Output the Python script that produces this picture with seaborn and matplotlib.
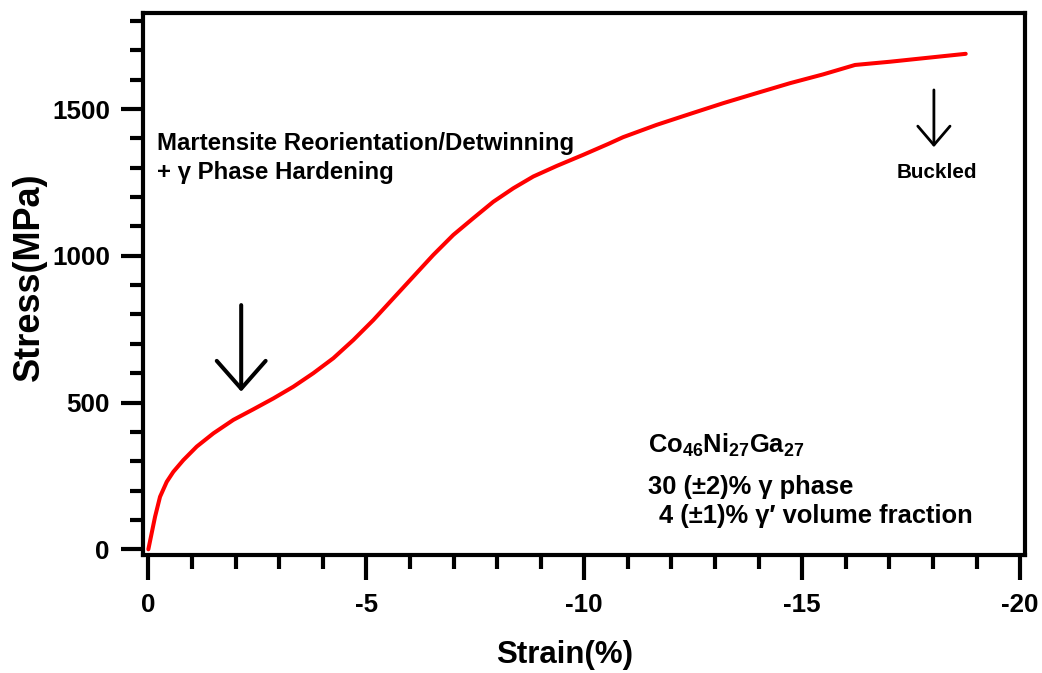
import matplotlib
matplotlib.use("Agg")
import matplotlib.pyplot as plt
import seaborn as sns
import pandas as pd

# strain-stress curve
strain = [0, -0.154, -0.268, -0.422, -0.573, -0.803, -1.110, -1.491, -1.950, -2.408,
          -2.867, -3.326, -3.784, -4.243, -4.702, -5.161, -5.619, -6.078, -6.537, -6.995,
          -7.454, -7.913, -8.372, -8.830, -9.367, -9.977, -10.55, -10.89, -11.66, -12.42,
          -13.19, -13.95, -14.72, -15.48, -16.21, -17.01, -17.78, -18.75]
stress = [0, 111, 179, 230, 264, 304, 350, 395, 441, 477,
          514, 554, 600, 651, 713, 781, 855, 929, 1003, 1071,
          1128, 1184, 1230, 1270, 1306, 1344, 1381, 1404, 1446, 1483,
          1520, 1554, 1588, 1618, 1650, 1661, 1673, 1688]

x_ticks = [0, -5, -10, -15, -20]
y_ticks = [0, 500, 1000, 1500]

df = pd.DataFrame({"Strain": strain, "Stress": stress})

sns.set_style("ticks")
plt.rcParams["font.family"] = ["Liberation Sans", "DejaVu Sans"]
plt.rcParams["font.weight"] = "bold"
plt.rcParams["axes.unicode_minus"] = False
plt.rcParams["text.color"] = "black"
plt.rcParams["axes.labelcolor"] = "black"
plt.rcParams["xtick.color"] = "black"
plt.rcParams["ytick.color"] = "black"
plt.rcParams["mathtext.fontset"] = "custom"
plt.rcParams["mathtext.rm"] = "Liberation Sans:bold"
plt.rcParams["mathtext.it"] = "Liberation Sans:bold"
plt.rcParams["mathtext.bf"] = "Liberation Sans:bold"

fig = plt.figure(figsize=(10.42, 6.73), dpi=100)
ax = fig.add_axes([0.1368, 0.1753, 0.8469, 0.8058])

sns.lineplot(data=df, x="Strain", y="Stress", color="red", lw=2.9, ax=ax, sort=False)

ax.set_xlim(0.133, -20.11)
ax.set_ylim(-19.4, 1828)
ax.set_xticks(x_ticks)
ax.set_xticks(range(0, -21, -1), minor=True)
ax.set_yticks(y_ticks)
ax.set_yticks(range(0, 1801, 100), minor=True)

for s in ax.spines.values():
    s.set_linewidth(3)
    s.set_color("black")

ax.tick_params(axis="y", which="major", direction="out", length=16, width=3, pad=7.5, labelsize=18.7)
ax.tick_params(axis="y", which="minor", direction="out", length=9.5, width=3)
ax.tick_params(axis="x", which="major", direction="out", length=18, width=3, pad=9, labelsize=18.7)
ax.tick_params(axis="x", which="minor", direction="out", length=10, width=3)
for lab in ax.get_xticklabels() + ax.get_yticklabels():
    lab.set_fontweight("bold")

ax.set_xlabel("Strain(%)", fontsize=22.5, fontweight="bold")
ax.set_ylabel("Stress(MPa)", fontsize=26, fontweight="bold")
ax.xaxis.set_label_coords(0.478, -0.184)
ax.xaxis.label.set_va("center")
ax.yaxis.set_label_coords(-0.128, 0.513)
ax.yaxis.label.set_va("center")

ax.text(-0.21, 1360, "Martensite Reorientation/Detwinning", fontsize=17.3,
        fontweight="bold", va="baseline", ha="left")
ax.text(-0.21, 1262, "+ \u03b3 Phase Hardening", fontsize=17.3,
        fontweight="bold", va="baseline", ha="left")
ax.text(-11.46, 329, "Co$_{46}$Ni$_{27}$Ga$_{27}$", fontsize=18.4, fontweight="bold",
        va="baseline", ha="left")
ax.text(-11.46, 188, "30 (\u00b12)% \u03b3 phase", fontsize=18.4, fontweight="bold",
        va="baseline", ha="left")
ax.text(-11.71, 88, "4 (\u00b11)% \u03b3\u2032 volume fraction", fontsize=18.4, fontweight="bold",
        va="baseline", ha="left")
ax.text(-18.08, 1264, "Buckled", fontsize=14.9, fontweight="bold", va="baseline", ha="center")

ax.annotate("", xy=(-2.13, 537), xytext=(-2.13, 832),
            arrowprops=dict(arrowstyle="->,head_length=1.0,head_width=0.88", lw=2.9,
                            color="black", mutation_scale=20, shrinkA=0, shrinkB=0))
ax.annotate("", xy=(-18.02, 1370), xytext=(-18.02, 1565),
            arrowprops=dict(arrowstyle="->,head_length=0.68,head_width=0.58", lw=2,
                            color="black", mutation_scale=20, shrinkA=0, shrinkB=0))

fig.savefig("out.png", dpi=100)
